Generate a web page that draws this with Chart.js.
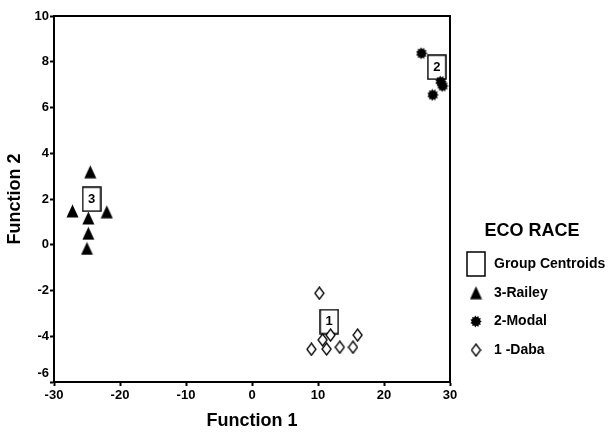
<!DOCTYPE html>
<html>
<head>
<meta charset="utf-8">
<script src="https://cdn.jsdelivr.net/npm/chart.js@4/dist/chart.umd.min.js"></script>
<style>
  body { margin: 0; background: #fff; }
  #wrap { width: 612px; height: 432px; }
</style>
</head>
<body>
<div id="wrap"><canvas id="chart" width="612" height="432"></canvas></div>
<script>
// tick values
const xTicks = [-30, -20, -10, 0, 10, 20, 30];
const yTicks = [-6, -4, -2, 0, 2, 4, 6, 8, 10];

// legend entries, in the order shown
const legendTitle = 'ECO RACE';
const legendNames = ['Group Centroids', '3-Railey', '2-Modal', '1 -Daba'];

// group centroids (box with group number)
const centroidX = [11.7, 28.0, -24.3];
const centroidY = [-3.36, 7.76, 1.99];
const centroidNums = ['1', '2', '3'];

// 3-Railey
const raileyX = [-24.5, -27.2, -22.0, -24.8, -24.8, -25.0];
const raileyY = [3.19, 1.48, 1.44, 1.17, 0.5, -0.16];

// 2-Modal
const modalX = [25.7, 28.6, 28.9, 27.4];
const modalY = [8.37, 7.13, 6.94, 6.55];

// 1-Daba
const dabaX = [10.2, 9.0, 10.7, 11.3, 11.9, 13.3, 15.3, 16.0];
const dabaY = [-2.12, -4.57, -4.16, -4.56, -3.95, -4.48, -4.48, -3.95];

function pts(xs, ys) {
  return xs.map((x, i) => ({ x: x, y: ys[i] }));
}

// small canvases used as point markers
function makeMarker(w, h, draw) {
  const c = document.createElement('canvas');
  c.width = w;
  c.height = h;
  draw(c.getContext('2d'), w, h);
  return c;
}

const boxMark = makeMarker(20, 26, (g, w, h) => {
  g.fillStyle = '#fff';
  g.fillRect(1, 1, w - 2, h - 2);
  g.strokeStyle = '#000';
  g.lineWidth = 1.5;
  g.strokeRect(1, 1, w - 2, h - 2);
});

const triMark = makeMarker(13, 14, (g, w, h) => {
  g.fillStyle = '#000';
  g.beginPath();
  g.moveTo(w / 2, 0.5);
  g.lineTo(w - 0.5, h - 0.5);
  g.lineTo(0.5, h - 0.5);
  g.closePath();
  g.fill();
});

const blobMark = makeMarker(12, 13, (g, w, h) => {
  g.fillStyle = '#000';
  g.beginPath();
  const n = 11;
  for (let i = 0; i < n * 2; i++) {
    const a = (Math.PI * i) / n;
    const r = i % 2 === 0 ? 5.8 : 4.2;
    const px = w / 2 + Math.cos(a) * r;
    const py = h / 2 + Math.sin(a) * r * 1.05;
    if (i === 0) g.moveTo(px, py); else g.lineTo(px, py);
  }
  g.closePath();
  g.fill();
});

const diaMark = makeMarker(11, 14, (g, w, h) => {
  g.fillStyle = '#fff';
  g.strokeStyle = '#000';
  g.lineWidth = 1.3;
  g.beginPath();
  g.moveTo(w / 2, 1);
  g.lineTo(w - 1, h / 2);
  g.lineTo(w / 2, h - 1);
  g.lineTo(1, h / 2);
  g.closePath();
  g.fill();
  g.stroke();
});

const markers = [boxMark, triMark, blobMark, diaMark];

const tickFont = { family: 'Liberation Sans', weight: 'bold', size: 13 };
const titleFont = { family: 'Liberation Sans', weight: 'bold', size: 18, lineHeight: 1.2 };

// white background
const bgPlugin = {
  id: 'bg',
  beforeDraw(chart) {
    const ctx = chart.ctx;
    ctx.save();
    ctx.fillStyle = '#fff';
    ctx.fillRect(0, 0, chart.width, chart.height);
    ctx.restore();
  }
};

// top and right edges of the plot box, and the lowest y label lifted off the corner
const framePlugin = {
  id: 'frame',
  afterDraw(chart) {
    const a = chart.chartArea;
    const ctx = chart.ctx;
    ctx.save();
    ctx.strokeStyle = '#000';
    ctx.lineWidth = 2;
    ctx.beginPath();
    ctx.moveTo(a.left, a.top);
    ctx.lineTo(a.right, a.top);
    ctx.lineTo(a.right, a.bottom);
    ctx.stroke();

    const ys = chart.scales.y;
    ctx.fillStyle = '#000';
    ctx.font = 'bold 13px "Liberation Sans"';
    ctx.textAlign = 'right';
    ctx.textBaseline = 'middle';
    ctx.fillText(String(yTicks[0]), ys.right - 5, ys.getPixelForValue(yTicks[0]) - 9);
    ctx.restore();
  }
};

// numbers inside the centroid boxes
const centroidLabels = {
  id: 'centroidLabels',
  afterDatasetsDraw(chart) {
    const meta = chart.getDatasetMeta(0);
    const ctx = chart.ctx;
    ctx.save();
    ctx.fillStyle = '#000';
    ctx.font = 'bold 13px "Liberation Sans"';
    ctx.textAlign = 'center';
    ctx.textBaseline = 'middle';
    meta.data.forEach((el, i) => {
      ctx.fillText(centroidNums[i], el.x, el.y);
    });
    ctx.restore();
  }
};

// legend on the right
const sideLegend = {
  id: 'sideLegend',
  afterDraw(chart) {
    const ctx = chart.ctx;
    ctx.save();
    ctx.fillStyle = '#000';
    ctx.font = 'bold 18px "Liberation Sans"';
    ctx.textAlign = 'center';
    ctx.textBaseline = 'middle';
    ctx.fillText(legendTitle, 532, 231);
    ctx.font = 'bold 14px "Liberation Sans"';
    ctx.textAlign = 'left';
    chart.data.datasets.forEach((ds, i) => {
      const y = 264 + i * 28.7;
      const m = ds.pointStyle;
      ctx.drawImage(m, 476 - m.width / 2, y - m.height / 2);
      ctx.fillText(ds.label, 494, y);
    });
    ctx.restore();
  }
};

const ctx = document.getElementById('chart').getContext('2d');

new Chart(ctx, {
  type: 'scatter',
  data: {
    datasets: [
      { label: legendNames[0], data: pts(centroidX, centroidY), pointStyle: markers[0], order: 1 },
      { label: legendNames[1], data: pts(raileyX, raileyY), pointStyle: markers[1], order: 0 },
      { label: legendNames[2], data: pts(modalX, modalY), pointStyle: markers[2], order: 0 },
      { label: legendNames[3], data: pts(dabaX, dabaY), pointStyle: markers[3], order: 0 }
    ]
  },
  options: {
    responsive: false,
    animation: false,
    devicePixelRatio: 1,
    events: [],
    layout: { padding: { left: 0, right: 162, top: 16, bottom: 0 } },
    plugins: {
      legend: { display: false },
      tooltip: { enabled: false }
    },
    scales: {
      x: {
        type: 'linear',
        min: -30,
        max: 30,
        afterBuildTicks: s => { s.ticks = xTicks.map(v => ({ value: v })); },
        afterFit: s => { s.height = 50; },
        grid: { drawOnChartArea: false, tickLength: 4, tickWidth: 2, color: '#000' },
        border: { color: '#000', width: 2 },
        ticks: { color: '#000', font: tickFont, padding: 2, maxRotation: 0 },
        title: { display: true, text: 'Function 1', color: '#000', font: titleFont, padding: { top: 0, bottom: 0 } }
      },
      y: {
        type: 'linear',
        min: -6,
        max: 10,
        afterBuildTicks: s => { s.ticks = yTicks.map(v => ({ value: v })); },
        afterFit: s => { s.width = 54; },
        grid: { drawOnChartArea: false, tickLength: 4, tickWidth: 2, color: '#000' },
        border: { color: '#000', width: 2 },
        // lowest label is drawn by the frame plugin, a little higher
        ticks: { color: '#000', font: tickFont, padding: 1, callback: v => (v === yTicks[0] ? '' : String(v)) },
        title: { display: true, text: 'Function 2', color: '#000', font: titleFont, padding: { top: 4, bottom: 0 } }
      }
    }
  },
  plugins: [bgPlugin, framePlugin, centroidLabels, sideLegend]
});
</script>
</body>
</html>
